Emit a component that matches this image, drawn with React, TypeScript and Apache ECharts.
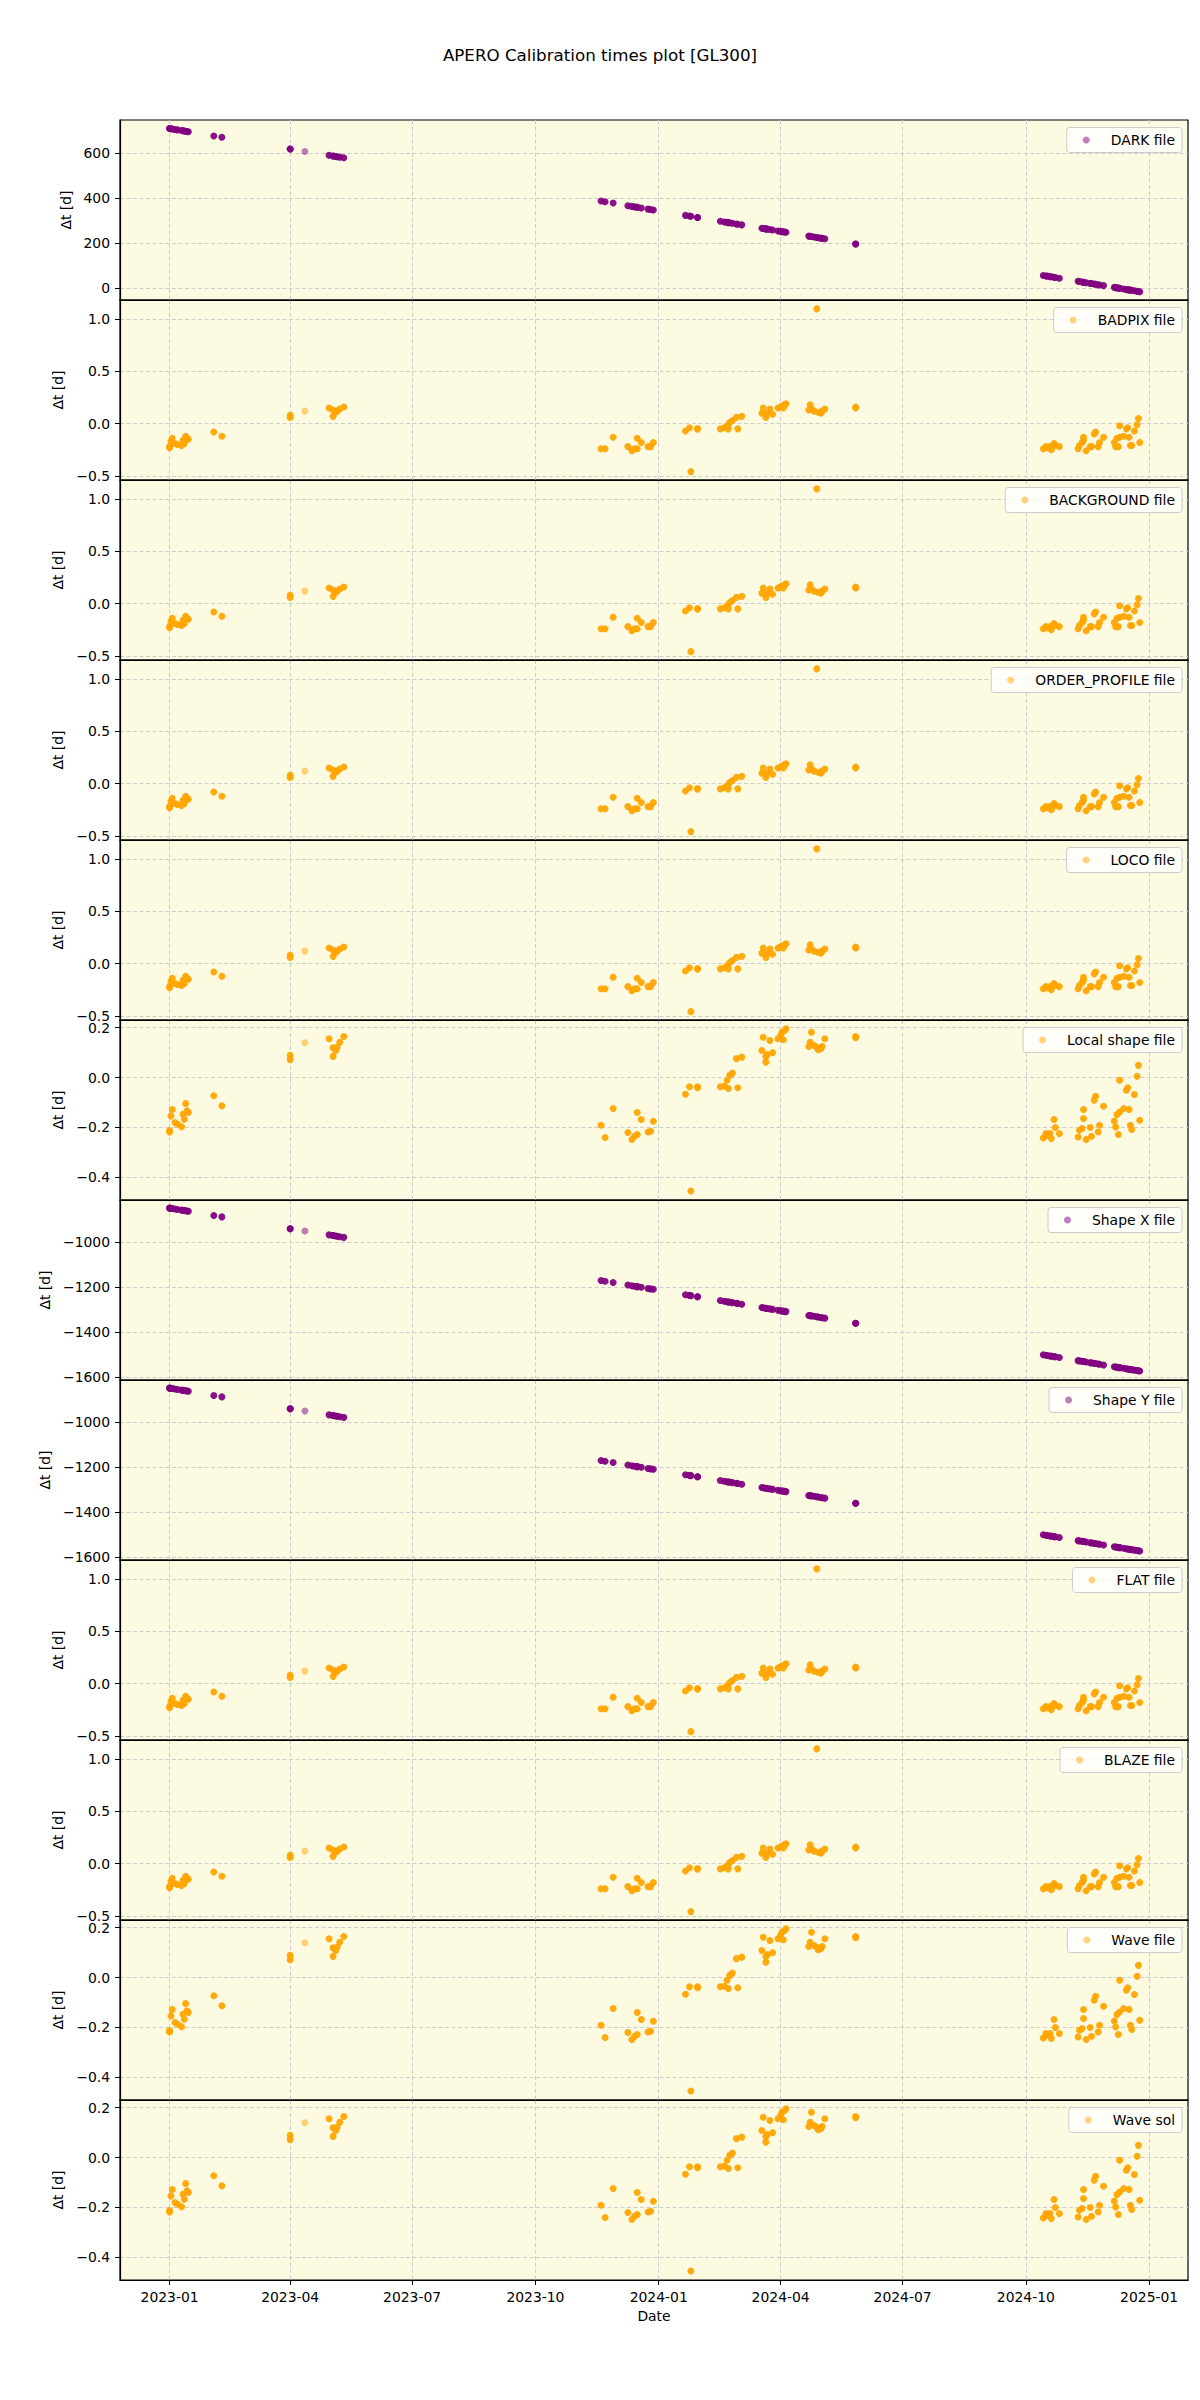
import React, { useEffect, useRef } from "react";
import * as echarts from "echarts";

// ---------------- DATA ----------------
const TITLE = "APERO Calibration times plot [GL300]";

// observation dates (one entry per plotted observation)
const obsDates = [
  "2023-01-01", "2023-01-01", "2023-01-02", "2023-01-03", "2023-01-05", "2023-01-07", "2023-01-10", "2023-01-11", "2023-01-12", "2023-01-13", "2023-01-14", "2023-01-15",
  "2023-02-03", "2023-02-09",
  "2023-04-01", "2023-04-01", "2023-04-12",
  "2023-04-30", "2023-05-03", "2023-05-03", "2023-05-05", "2023-05-06", "2023-05-08", "2023-05-11",
  "2023-11-19", "2023-11-22", "2023-11-28",
  "2023-12-09", "2023-12-12", "2023-12-14", "2023-12-16", "2023-12-16", "2023-12-19",
  "2023-12-24", "2023-12-26", "2023-12-28",
  "2024-01-21", "2024-01-24", "2024-01-25", "2024-01-30", "2024-01-30",
  "2024-02-16", "2024-02-19", "2024-02-21", "2024-02-22", "2024-02-23", "2024-02-25", "2024-02-28", "2024-02-29", "2024-03-03",
  "2024-03-18", "2024-03-19", "2024-03-21", "2024-03-21", "2024-03-22", "2024-03-24", "2024-03-26", "2024-03-30", "2024-04-01", "2024-04-02", "2024-04-04", "2024-04-05", "2024-04-03",
  "2024-04-22", "2024-04-23", "2024-04-24", "2024-04-26", "2024-04-28", "2024-04-29", "2024-05-01", "2024-05-02", "2024-05-04",
  "2024-05-27", "2024-05-27",
  "2024-10-14", "2024-10-16", "2024-10-17", "2024-10-19", "2024-10-20", "2024-10-22", "2024-10-23", "2024-10-26",
  "2024-11-09", "2024-11-10", "2024-11-12", "2024-11-13", "2024-11-13", "2024-11-15", "2024-11-18", "2024-11-19", "2024-11-21", "2024-11-22", "2024-11-24", "2024-11-25", "2024-11-28",
  "2024-12-06", "2024-12-07", "2024-12-08", "2024-12-09", "2024-12-10", "2024-12-10", "2024-12-13", "2024-12-15", "2024-12-16", "2024-12-17", "2024-12-18", "2024-12-19", "2024-12-21", "2024-12-23", "2024-12-24", "2024-12-25",
];

// nights with a single exposure (drawn faint, as in the reference)
const singleExposureDates = ["2023-04-12"];

// DARK file delta-t [d]
const darkDt = [
  710, 710, 709, 708, 706, 704, 701, 700, 699, 698, 697, 696,
  677, 671,
  619, 619, 608,
  591, 588, 588, 586, 585, 583, 580,
  388, 385, 379,
  367, 364, 362, 360, 360, 357,
  352, 350, 348,
  324, 321, 320, 315, 315,
  298, 295, 293, 292, 291, 289, 286, 285, 282,
  267, 266, 264, 264, 263, 261, 259, 255, 253, 252, 250, 249, 251,
  232, 231, 230, 228, 226, 225, 223, 222, 220,
  197, 197,
  57, 55, 54, 52, 51, 49, 48, 45,
  31, 30, 28, 27, 27, 25, 22, 21, 19, 18, 16, 15, 12,
  4, 3, 2, 1, 0, 0, -3, -5, -6, -7, -8, -9, -11, -13, -14, -15,
];

// Shape X / Shape Y file delta-t [d]
const shapeDt = [
  -848, -848, -849, -850, -852, -854, -857, -858, -859, -860, -861, -862,
  -881, -887,
  -940, -940, -950,
  -967, -970, -970, -972, -973, -975, -978,
  -1170, -1173, -1179,
  -1190, -1193, -1195, -1197, -1197, -1200,
  -1205, -1207, -1209,
  -1233, -1236, -1237, -1242, -1242,
  -1259, -1262, -1264, -1265, -1266, -1268, -1271, -1272, -1275,
  -1290, -1291, -1293, -1293, -1294, -1296, -1298, -1302, -1304, -1305, -1307, -1308, -1306,
  -1325, -1326, -1327, -1329, -1331, -1332, -1334, -1335, -1337,
  -1360, -1360,
  -1500, -1502, -1503, -1505, -1506, -1508, -1509, -1512,
  -1526, -1527, -1529, -1530, -1530, -1532, -1535, -1536, -1538, -1539, -1541, -1542, -1545,
  -1553, -1554, -1555, -1556, -1557, -1557, -1560, -1562, -1563, -1564, -1565, -1566, -1568, -1570, -1571, -1572,
];

// BADPIX / BACKGROUND / ORDER_PROFILE / LOCO / FLAT / BLAZE delta-t [d]
const nightlyDt = [
  -0.23, -0.22, -0.17, -0.14, -0.19, -0.2, -0.21, -0.16, -0.19, -0.12, -0.14, -0.15,
  -0.08, -0.12,
  0.08, 0.06, 0.12,
  0.15, 0.13, 0.07, 0.11, 0.12, 0.14, 0.16,
  -0.24, -0.24, -0.13,
  -0.22, -0.26, -0.24, -0.24, -0.14, -0.18,
  -0.22, -0.22, -0.18,
  -0.07, -0.04, -0.46, -0.05, -0.05,
  -0.05, -0.04, -0.02, -0.05, 0.01, 0.03, 0.06, -0.05, 0.07,
  0.1, 0.15, 0.06, 0.09, 0.1, 0.14, 0.09, 0.15, 0.16, 0.17, 0.18, 0.19, 0.15,
  0.13, 0.18, 0.14, 0.12, 1.1, 0.11, 0.1, 0.12, 0.14,
  0.16, 0.15,
  -0.24, -0.22, -0.23, -0.22, -0.25, -0.19, -0.21, -0.22,
  -0.24, -0.21, -0.18, -0.16, -0.13, -0.26, -0.22, -0.22, -0.1, -0.08, -0.22, -0.18, -0.13,
  -0.18, -0.22, -0.14, -0.22, -0.13, -0.02, -0.12, -0.05, -0.04, -0.13, -0.21, -0.21, -0.07, -0.01, 0.05, -0.18,
];

// Local shape / Wave file / Wave sol delta-t [d]
const localShapeDt = [
  -0.218, -0.212, -0.154, -0.128, -0.18, -0.187, -0.197, -0.147, -0.167, -0.104, -0.133, -0.14,
  -0.073, -0.113,
  0.089, 0.072, 0.14,
  0.156, 0.12, 0.085, 0.109, 0.122, 0.142, 0.165,
  -0.191, -0.24, -0.124,
  -0.22, -0.248, -0.235, -0.228, -0.14, -0.168,
  -0.218, -0.215, -0.175,
  -0.067, -0.037, -0.455, -0.041, -0.037,
  -0.037, -0.035, -0.011, -0.044, 0.009, 0.018, 0.076, -0.041, 0.082,
  0.109, 0.162, 0.062, 0.085, 0.092, 0.149, 0.1, 0.156, 0.169, 0.182, 0.189, 0.196, 0.152,
  0.125, 0.142, 0.182, 0.129, 0.122, 0.112, 0.116, 0.125, 0.156,
  0.165, 0.16,
  -0.242, -0.224, -0.231, -0.224, -0.244, -0.168, -0.2, -0.224,
  -0.238, -0.211, -0.204, -0.164, -0.128, -0.248, -0.2, -0.235, -0.091, -0.075, -0.218, -0.191, -0.115,
  -0.174, -0.198, -0.148, -0.228, -0.138, -0.011, -0.124, -0.051, -0.041, -0.128, -0.191, -0.208, -0.068, 0.005, 0.049, -0.171,
];

// x tick labels (month starts)
const xTickLabels = ["2023-01", "2023-04", "2023-07", "2023-10", "2024-01", "2024-04", "2024-07", "2024-10", "2025-01"];
const xRange = ["2022-11-25", "2025-01-30"];

// y ticks per panel type
const darkTicks = [0, 200, 400, 600];
const nightlyTicks = [-0.5, 0.0, 0.5, 1.0];
const localTicks = [-0.4, -0.2, 0.0, 0.2];
const shapeTicks = [-1600, -1400, -1200, -1000];

// y ranges per panel type
const darkRange = [-52, 748];
const nightlyRange = [-0.54, 1.185];
const localRange = [-0.491, 0.231];
const shapeRange = [-1612, -812];

const panelNames = [
  "DARK file", "BADPIX file", "BACKGROUND file", "ORDER_PROFILE file", "LOCO file", "Local shape file",
  "Shape X file", "Shape Y file", "FLAT file", "BLAZE file", "Wave file", "Wave sol",
];

// ---------------- STYLE / LAYOUT ----------------
const FONT = "DejaVu Sans";
const PURPLE = "#800080";
const ORANGE = "#FFA500";
const BG = "#fcfbe2";
const GRID_COLOR = "#cdcdcd";
const PLOT_LEFT = 120;
const PLOT_WIDTH = 1068;
const FIRST_TOP = 120;
const PANEL_H = 180;

type PanelKind = "dark" | "nightly" | "local" | "shape";
const panelKinds: PanelKind[] = [
  "dark", "nightly", "nightly", "nightly", "nightly", "local",
  "shape", "shape", "nightly", "nightly", "local", "local",
];

const kindInfo: Record<PanelKind, { values: number[]; ticks: number[]; range: number[]; color: string; decimals: number; nameGap: number }> = {
  dark: { values: darkDt, ticks: darkTicks, range: darkRange, color: PURPLE, decimals: 0, nameGap: 42 },
  nightly: { values: nightlyDt, ticks: nightlyTicks, range: nightlyRange, color: ORANGE, decimals: 1, nameGap: 48 },
  local: { values: localShapeDt, ticks: localTicks, range: localRange, color: ORANGE, decimals: 1, nameGap: 48 },
  shape: { values: shapeDt, ticks: shapeTicks, range: shapeRange, color: PURPLE, decimals: 0, nameGap: 64 },
};

const toTs = (s: string) => Date.parse(s.length === 7 ? s + "-01" : s);

const fmtNum = (v: number, d: number) => {
  const r = Math.round(v * Math.pow(10, d)) / Math.pow(10, d);
  const s = Math.abs(r).toFixed(d);
  return (r < 0 ? "\u2212" : "") + s;
};

function buildOption() {
  const n = panelNames.length;
  const xTickValues = xTickLabels.map(toTs);
  const xMin = toTs(xRange[0]);
  const xMax = toTs(xRange[1]);
  const faint = new Set(singleExposureDates);

  const grids: any[] = [];
  const xAxes: any[] = [];
  const yAxes: any[] = [];
  const series: any[] = [];
  const legends: any[] = [];

  for (let i = 0; i < n; i++) {
    const info = kindInfo[panelKinds[i]];
    const top = FIRST_TOP + i * PANEL_H;
    const last = i === n - 1;
    grids.push({
      left: PLOT_LEFT,
      top,
      width: PLOT_WIDTH,
      height: PANEL_H,
      show: true,
      backgroundColor: BG,
      borderColor: "#000",
      borderWidth: 1.2,
    });
    xAxes.push({
      type: "value",
      gridIndex: i,
      min: xMin,
      max: xMax,
      axisLine: { show: true, onZero: false, lineStyle: { color: "#000", width: 1.2 } },
      axisTick: { show: last, length: 5, customValues: xTickValues, lineStyle: { color: "#000" } },
      axisLabel: {
        show: last,
        customValues: xTickValues,
        margin: 10,
        fontSize: 13.9,
        fontFamily: FONT,
        color: "#000",
        formatter: (v: number) => {
          const d = new Date(v);
          const m = d.getUTCMonth() + 1;
          return d.getUTCFullYear() + "-" + (m < 10 ? "0" + m : "" + m);
        },
      },
      splitLine: { show: true, lineStyle: { color: GRID_COLOR, type: [4, 2.5], width: 1 } },
      name: last ? "Date" : "",
      nameLocation: "middle",
      nameGap: 29,
      nameTextStyle: { fontSize: 13.9, fontFamily: FONT, color: "#000" },
    });
    yAxes.push({
      type: "value",
      gridIndex: i,
      min: info.range[0],
      max: info.range[1],
      axisLine: { show: true, onZero: false, lineStyle: { color: "#000", width: 1.2 } },
      axisTick: { show: true, length: 5, customValues: info.ticks, lineStyle: { color: "#000" } },
      axisLabel: {
        show: true,
        customValues: info.ticks,
        margin: 10,
        fontSize: 13.9,
        fontFamily: FONT,
        color: "#000",
        formatter: (v: number) => fmtNum(v, info.decimals),
      },
      splitLine: { show: true, lineStyle: { color: GRID_COLOR, type: [4, 2.5], width: 1 } },
      name: "\u0394t [d]",
      nameLocation: "middle",
      nameGap: info.nameGap,
      nameTextStyle: { fontSize: 13.9, fontFamily: FONT, color: "#000" },
    });
    series.push({
      type: "scatter",
      name: panelNames[i],
      xAxisIndex: i,
      yAxisIndex: i,
      symbol: "circle",
      symbolSize: 7,
      silent: true,
      itemStyle: { color: info.color, opacity: 0.93 },
      data: obsDates.map((d, k) => {
        const item: any = { value: [toTs(d), info.values[k]] };
        if (faint.has(d)) item.itemStyle = { opacity: 0.5 };
        return item;
      }),
    });
    legends.push({
      data: [panelNames[i]],
      top: top + 7.5,
      right: 18,
      orient: "vertical",
      icon: "circle",
      itemWidth: 7,
      itemHeight: 7,
      padding: [5, 7, 5, 16],
      backgroundColor: "rgba(255,255,255,0.8)",
      borderColor: "#cccccc",
      borderWidth: 1,
      borderRadius: 3,
      selectedMode: false,
      itemStyle: { opacity: 0.5 },
      textStyle: { fontSize: 13.9, fontFamily: FONT, color: "#000", lineHeight: 15, padding: [0, 0, 0, 16] },
    });
  }

  return {
    animation: false,
    backgroundColor: "#ffffff",
    textStyle: { fontFamily: FONT },
    title: {
      text: TITLE,
      left: "center",
      top: 46,
      padding: 0,
      textStyle: { fontSize: 16.7, fontWeight: "normal", color: "#000", fontFamily: FONT },
    },
    grid: grids,
    xAxis: xAxes,
    yAxis: yAxes,
    legend: legends,
    series,
  };
}

export default function App() {
  const ref = useRef<HTMLDivElement>(null);
  useEffect(() => {
    if (!ref.current) return;
    const chart = echarts.init(ref.current, undefined, { renderer: "svg", width: 1200, height: 2400 });
    chart.setOption(buildOption() as any);
    return () => chart.dispose();
  }, []);
  return (
    <div
      ref={ref}
      style={{ position: "absolute", left: 0, top: 0, width: 1200, height: 2400, background: "#fff" }}
    />
  );
}
